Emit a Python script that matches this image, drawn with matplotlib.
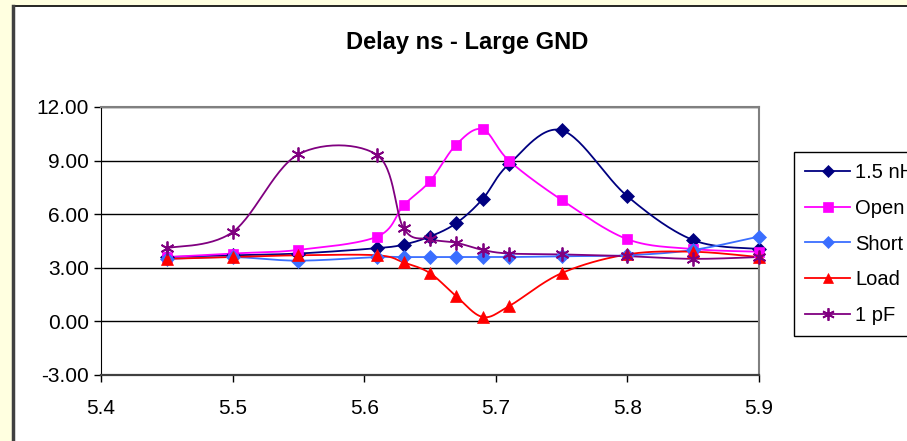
import numpy as np
import matplotlib
matplotlib.use('Agg')
import matplotlib.pyplot as plt
from matplotlib.patches import Rectangle
from matplotlib.lines import Line2D

plt.rcParams['font.family'] = ['Liberation Sans', 'DejaVu Sans']

freq = [5.45, 5.50, 5.55, 5.61, 5.63, 5.65, 5.67, 5.69, 5.71, 5.75, 5.80, 5.85, 5.90]
nh15 = [3.6, 3.7, 3.8, 4.1, 4.3, 4.75, 5.5, 6.85, 8.8, 10.7, 7.0, 4.55, 4.05]
open_ = [3.6, 3.8, 4.0, 4.75, 6.5, 7.85, 9.9, 10.75, 9.0, 6.8, 4.6, 4.05, 3.9]
short = [3.5, 3.6, 3.4, 3.6, 3.6, 3.6, 3.6, 3.6, 3.6, 3.65, 3.7, 4.0, 4.75]
load = [3.5, 3.6, 3.7, 3.7, 3.3, 2.7, 1.4, 0.25, 0.85, 2.7, 3.75, 3.9, 3.6]
pf1 = [4.1, 5.0, 9.35, 9.3, 5.2, 4.6, 4.4, 4.0, 3.8, 3.75, 3.65, 3.5, 3.6]

series_names = ['1.5 nH', 'Open', 'Short', 'Load', '1 pF']
series_vals = [nh15, open_, short, load, pf1]
colors = ['#000080', '#FF00FF', '#3A6EFF', '#FF0000', '#800080']
markers = ['D', 's', 'D', '^', (6, 2, 0)]
msizes = [7, 7.5, 7, 8.5, 10]

yticks = [-3, 0, 3, 6, 9, 12]
xticks = [5.4, 5.5, 5.6, 5.7, 5.8, 5.9]


def smooth(x, y, n=30):
    """Excel-like smoothed line (Bezier through points)."""
    P = np.column_stack([x, y]).astype(float)
    m = len(P)
    out = []
    for i in range(m - 1):
        p0 = P[i - 1] if i > 0 else P[i]
        p1 = P[i]
        p2 = P[i + 1]
        p3 = P[i + 2] if i + 2 < m else P[i + 1]
        c1 = p1 + (p2 - p0) / 6.0
        c2 = p2 - (p3 - p1) / 6.0
        t = np.linspace(0, 1, n)[:, None]
        seg = ((1 - t) ** 3) * p1 + 3 * ((1 - t) ** 2) * t * c1 + 3 * (1 - t) * t ** 2 * c2 + t ** 3 * p2
        out.append(seg if i == 0 else seg[1:])
    s = np.vstack(out)
    return s[:, 0], s[:, 1]


fig = plt.figure(figsize=(9.07, 4.41), dpi=100)
fig.patch.set_facecolor('#FFFFE0')

# white chart area with border
W, H = 907.0, 441.0
fig.add_artist(Rectangle((13 / W, -0.05), 1.2, 1 - 6 / H + 0.05, transform=fig.transFigure,
                         facecolor='white', edgecolor='black', linewidth=1.2, zorder=0))
fig.add_artist(Line2D([13 / W, 13 / W], [-0.05, 1 - 6 / H], transform=fig.transFigure,
                      color='#404040', linewidth=2.5, zorder=1))

ax = fig.add_axes([101 / W, 1 - 375 / H, (759 - 101) / W, (375 - 107) / H])
ax.set_facecolor('white')

for name, vals, c, mk, ms in zip(series_names, series_vals, colors, markers, msizes):
    sx, sy = smooth(freq, vals)
    ax.plot(sx, sy, color=c, lw=1.3, zorder=3, clip_on=False)
    ax.plot(freq, vals, linestyle='none', marker=mk, color=c, markersize=ms,
            markeredgecolor=c, markeredgewidth=1.3 if mk == (6, 2, 0) else 0.5, zorder=4, clip_on=False)

ax.set_xlim(5.4, 5.9)
ax.set_ylim(-3, 12)
ax.set_yticks(yticks)
ax.set_yticklabels([f'{v:.2f}' for v in yticks])
ax.set_xticks(xticks)
ax.set_xticklabels([f'{v:.1f}' for v in xticks])
ax.yaxis.grid(True, color='black', linewidth=1)
ax.set_axisbelow(True)
ax.tick_params(axis='both', direction='out', length=5, width=1, labelsize=15, colors='black')
ax.tick_params(axis='y', pad=3.5)
ax.tick_params(axis='x', pad=12)
ax.spines['left'].set_color('black')
ax.spines['bottom'].set_color('#404040')
ax.spines['bottom'].set_linewidth(1.6)
ax.spines['top'].set_color('#808080')
ax.spines['right'].set_color('#808080')
ax.spines['top'].set_linewidth(1.5)
ax.spines['right'].set_linewidth(1.5)

fig.text(467 / W, 1 - 42 / H, 'Delay ns - Large GND', ha='center', va='center',
         fontsize=17, fontweight='bold')

handles = [Line2D([], [], color=c, lw=1.3, marker=mk, markersize=ms * 0.9,
                  markeredgecolor=c, markeredgewidth=1.3 if mk == (6, 2, 0) else 0.5)
           for c, mk, ms in zip(colors, markers, msizes)]
leg = fig.legend(handles, series_names, loc='upper left', bbox_to_anchor=(794 / W, 1 - 152 / H),
                 bbox_transform=fig.transFigure, borderaxespad=0, fontsize=14.5, frameon=True,
                 fancybox=False, edgecolor='black', facecolor='white', framealpha=1,
                 labelspacing=0.83, handlelength=2.25, handletextpad=0.25, borderpad=0.55)
leg.get_frame().set_linewidth(1)

fig.savefig('out.png', dpi=100, facecolor=fig.get_facecolor())
